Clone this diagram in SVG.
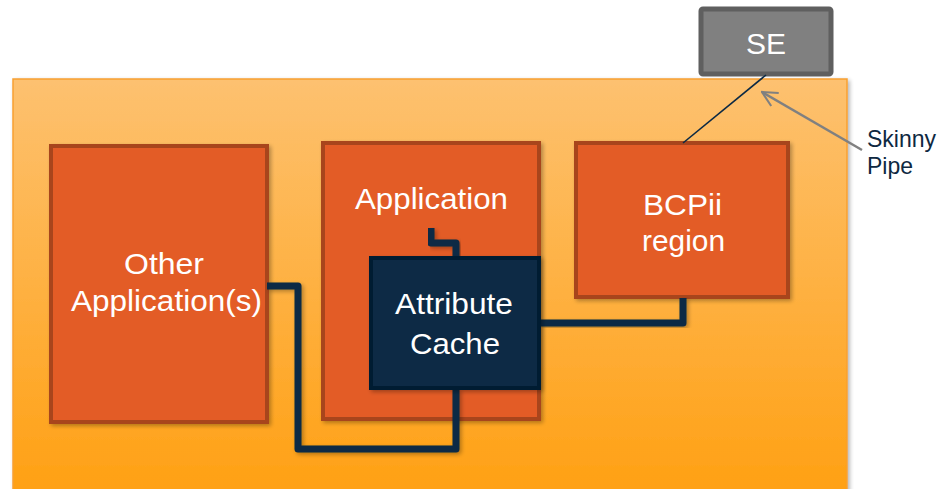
<svg xmlns="http://www.w3.org/2000/svg" width="940" height="489" viewBox="0 0 940 489">
  <defs>
    <linearGradient id="regionFill" x1="0" y1="0" x2="0" y2="1">
      <stop offset="0" stop-color="#FDC170"/>
      <stop offset="1" stop-color="#FFA012"/>
    </linearGradient>
    <filter id="shadow" x="-10%" y="-10%" width="130%" height="130%">
      <feGaussianBlur in="SourceAlpha" stdDeviation="2"/>
      <feOffset dx="2" dy="2" result="b"/>
      <feComponentTransfer><feFuncA type="linear" slope="0.3"/></feComponentTransfer>
      <feMerge><feMergeNode/><feMergeNode in="SourceGraphic"/></feMerge>
    </filter>
    <marker id="openArrow" viewBox="0 0 12 12" refX="11" refY="6" markerWidth="18" markerHeight="18" markerUnits="userSpaceOnUse" orient="auto">
      <path d="M1,1 L11,6 L1,11" fill="none" stroke="#808080" stroke-width="1.4"/>
    </marker>
    <style>
      .app { fill: #E35B26; stroke: #A8441A; stroke-width: 4; }
      .cache { fill: #0B2944; stroke: #051A30; stroke-width: 4; }
      .se { fill: #808080; stroke: #5F5F5F; stroke-width: 5; }
      .label { font-family: "Liberation Sans", Arial, sans-serif; font-size: 30px; fill: #FFFFFF; text-anchor: middle; }
      .note { font-family: "Liberation Sans", Arial, sans-serif; font-size: 24px; fill: #0E2841; }
      .link { fill: none; stroke: #0B2944; stroke-width: 7; stroke-linejoin: round; }
    </style>
  </defs>

  <!-- enclosing region -->
  <g id="region">
    <rect x="13" y="79" width="834" height="420" fill="url(#regionFill)" stroke="#F7A030" stroke-width="1.5" filter="url(#shadow)"/>
  </g>

  <!-- SE box -->
  <g id="se">
    <rect class="se" x="701" y="9" width="130" height="65" rx="2"/>
    <text class="label" x="766" y="54" textLength="40" lengthAdjust="spacingAndGlyphs">SE</text>
  </g>

  <g id="other-applications">
    <rect class="app" x="51" y="146" width="216" height="276" filter="url(#shadow)"/>
    <text class="label" x="164" y="274" textLength="80" lengthAdjust="spacingAndGlyphs">Other</text>
    <text class="label" x="166.5" y="311" textLength="191" lengthAdjust="spacingAndGlyphs">Application(s)</text>
  </g>

  <g id="application">
    <rect class="app" x="323" y="143" width="216" height="276" filter="url(#shadow)"/>
    <text class="label" x="431.5" y="209" textLength="153" lengthAdjust="spacingAndGlyphs">Application</text>
  </g>

  <g id="bcpii-region">
    <rect class="app" x="576" y="143" width="212" height="154" filter="url(#shadow)"/>
    <text class="label" x="682.5" y="215" textLength="79" lengthAdjust="spacingAndGlyphs">BCPii</text>
    <text class="label" x="683.5" y="251" textLength="83" lengthAdjust="spacingAndGlyphs">region</text>
  </g>

  <!-- connectors -->
  <g id="connectors">
    <path class="link" d="M431,228 V243 H456 V258" filter="url(#shadow)"/>
    <path class="link" d="M267,286 H298 V449 H456 V389" filter="url(#shadow)"/>
    <path class="link" d="M540,323 H683 V298" filter="url(#shadow)"/>
    <line x1="766" y1="75" x2="683" y2="143" stroke="#0B2944" stroke-width="1.6"/>
    <line x1="862" y1="150" x2="762" y2="92" stroke="#808080" stroke-width="2.5" marker-end="url(#openArrow)"/>
  </g>

  <g id="attribute-cache">
    <rect class="cache" x="371" y="258" width="168" height="130" filter="url(#shadow)"/>
    <text class="label" x="454" y="314" textLength="118" lengthAdjust="spacingAndGlyphs">Attribute</text>
    <text class="label" x="455" y="354" textLength="90" lengthAdjust="spacingAndGlyphs">Cache</text>
  </g>

  <g id="skinny-pipe">
    <text class="note" x="867" y="147" textLength="69" lengthAdjust="spacingAndGlyphs">Skinny</text>
    <text class="note" x="867" y="174" textLength="46" lengthAdjust="spacingAndGlyphs">Pipe</text>
  </g>
</svg>
